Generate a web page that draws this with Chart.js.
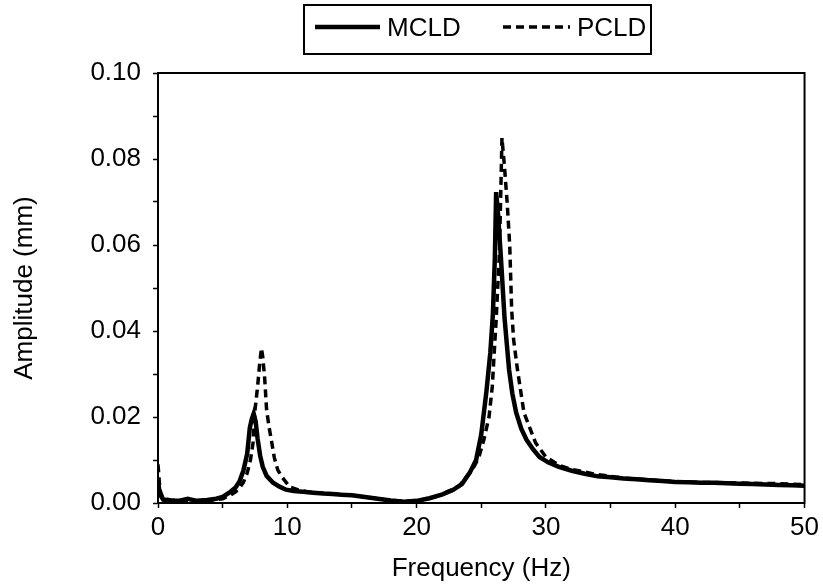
<!DOCTYPE html>
<html>
<head>
<meta charset="utf-8">
<title>MCLD vs PCLD</title>
<script src="https://cdn.jsdelivr.net/npm/chart.js@4.4.1/dist/chart.umd.min.js"></script>
<style>
  html, body { margin: 0; padding: 0; background: #fff; }
  #wrap { width: 823px; height: 585px; }
</style>
</head>
<body>
<div id="wrap"><canvas id="ampChart" width="823" height="585"></canvas></div>
<script>
// ── Data ────────────────────────────────────────────────────
const mcldFreq = [0, 0.15, 0.4, 1.0, 1.6, 2.3, 3.0, 3.8, 4.5, 5.0, 5.6, 6.0, 6.3, 6.6, 6.9, 7.1, 7.25, 7.4, 7.55, 7.7, 7.9, 8.1, 8.4, 8.9, 9.4, 9.9, 10.5, 11.2, 12.0, 12.8, 13.5, 14.2, 15.0, 16.0, 17.0, 18.0, 19.0, 20.0, 21.0, 22.0, 22.8, 23.5, 24.1, 24.6, 25.0, 25.4, 25.7, 25.9, 26.05, 26.15, 26.3, 26.5, 26.8, 27.15, 27.4, 27.7, 28.1, 28.5, 29.0, 29.5, 30.2, 31.0, 32.0, 33.0, 34.0, 35.0, 36.0, 37.0, 38.0, 39.0, 40.0, 41.0, 42.0, 43.0, 44.0, 45.0, 46.0, 47.0, 48.0, 49.0, 50.0];
const mcldAmp = [0.005, 0.002, 0.0008, 0.0006, 0.0005, 0.0010, 0.0005, 0.0007, 0.0010, 0.0014, 0.0026, 0.0036, 0.0050, 0.0075, 0.0115, 0.0175, 0.0195, 0.0208, 0.0190, 0.0150, 0.0110, 0.0084, 0.0063, 0.0047, 0.0038, 0.0031, 0.0028, 0.0026, 0.0024, 0.0022, 0.0021, 0.0019, 0.0018, 0.0014, 0.0010, 0.0006, 0.0003, 0.0005, 0.0011, 0.0020, 0.0030, 0.0044, 0.0070, 0.0100, 0.0160, 0.0260, 0.0350, 0.0440, 0.0570, 0.0723, 0.0670, 0.0580, 0.0430, 0.0310, 0.0255, 0.0210, 0.0172, 0.0147, 0.0125, 0.0107, 0.0094, 0.0084, 0.0075, 0.0068, 0.0062, 0.0060, 0.0057, 0.0055, 0.0053, 0.0051, 0.0049, 0.0048, 0.0047, 0.0047, 0.0046, 0.0045, 0.0044, 0.0043, 0.0042, 0.0041, 0.0040];

const pcldFreq = [0, 0.15, 0.4, 1.0, 2.0, 3.0, 4.0, 5.0, 5.6, 6.0, 6.3, 6.6, 6.9, 7.15, 7.35, 7.5, 7.7, 7.85, 8.0, 8.1, 8.25, 8.4, 8.6, 8.8, 9.0, 9.26, 9.6, 10.2, 10.8, 11.5, 12.5, 13.5, 14.5, 15.5, 16.5, 17.5, 18.5, 19.5, 20.5, 21.5, 22.5, 23.3, 24.3, 24.8, 25.2, 25.6, 25.85, 26.15, 26.4, 26.5, 26.6, 26.8, 27.0, 27.2, 27.35, 27.5, 27.8, 28.3, 29.2, 30.0, 31.0, 32.0, 34.0, 36.0, 38.0, 40.0, 42.0, 44.0, 46.0, 48.0, 50.0];
const pcldAmp = [0.009, 0.003, 0.001, 0.0007, 0.0006, 0.0005, 0.0006, 0.0010, 0.0018, 0.0026, 0.0035, 0.0048, 0.0070, 0.0100, 0.0140, 0.0216, 0.0270, 0.0320, 0.0360, 0.0340, 0.0290, 0.0216, 0.0175, 0.0140, 0.0105, 0.0077, 0.0060, 0.0037, 0.0031, 0.0026, 0.0023, 0.0021, 0.0019, 0.0016, 0.0012, 0.0008, 0.0005, 0.0004, 0.0008, 0.0015, 0.0028, 0.0040, 0.0077, 0.0105, 0.0147, 0.0200, 0.0270, 0.0426, 0.0580, 0.0710, 0.0849, 0.0780, 0.0700, 0.0600, 0.0450, 0.0380, 0.0310, 0.0210, 0.0140, 0.0107, 0.0088, 0.0078, 0.0066, 0.0058, 0.0054, 0.0050, 0.0048, 0.0047, 0.0046, 0.0045, 0.0043];

const seriesNames = ['MCLD', 'PCLD'];
const xTitle = 'Frequency (Hz)';
const yTitle = 'Amplitude (mm)';

const FONT = '"Liberation Sans", Arial, Helvetica, sans-serif';

function toPoints(xs, ys) {
  return xs.map((x, i) => ({ x: x, y: ys[i] }));
}

// ── Plugins: frame round the plot and boxed legend ──────────
const framePlugin = {
  id: 'frame',
  afterDraw(chart) {
    const { ctx, chartArea: a } = chart;
    ctx.save();
    ctx.strokeStyle = '#000';
    ctx.lineWidth = 2;
    ctx.strokeRect(a.left, a.top, a.right - a.left, a.bottom - a.top);
    ctx.restore();
  }
};

const boxLegend = {
  id: 'boxLegend',
  afterDraw(chart) {
    const ctx = chart.ctx;
    const ds = chart.data.datasets;
    ctx.save();
    ctx.strokeStyle = '#000';
    ctx.lineWidth = 2;
    ctx.setLineDash([]);
    ctx.strokeRect(304, 5, 347, 49);

    ctx.font = '26px ' + FONT;
    ctx.fillStyle = '#000';
    ctx.textBaseline = 'middle';
    ctx.textAlign = 'left';

    const items = [
      { x0: 315, x1: 380, tx: 387 },
      { x0: 503, x1: 570, tx: 577 }
    ];
    items.forEach((it, i) => {
      ctx.beginPath();
      ctx.lineWidth = ds[i].borderWidth;
      ctx.setLineDash(ds[i].borderDash || []);
      ctx.moveTo(it.x0, 27);
      ctx.lineTo(it.x1, 27);
      ctx.stroke();
      ctx.setLineDash([]);
      ctx.fillText(ds[i].label, it.tx, 29);
    });
    ctx.restore();
  }
};

// ── Chart ───────────────────────────────────────────────────
new Chart(document.getElementById('ampChart').getContext('2d'), {
  type: 'line',
  data: {
    datasets: [
      {
        label: seriesNames[0],
        data: toPoints(mcldFreq, mcldAmp),
        borderColor: '#000', borderWidth: 4.5,
        pointRadius: 0, tension: 0, fill: false,
      },
      {
        label: seriesNames[1],
        data: toPoints(pcldFreq, pcldAmp),
        borderColor: '#000', borderWidth: 3.5, borderDash: [8, 5],
        pointRadius: 0, tension: 0, fill: false,
      }
    ]
  },
  options: {
    responsive: false,
    animation: false,
    devicePixelRatio: 1,
    layout: { padding: { top: 73, right: 17, left: 0, bottom: 0 } },
    plugins: { legend: { display: false }, tooltip: { enabled: false } },
    scales: {
      x: {
        type: 'linear', min: 0, max: 50,
        afterFit: (s) => { s.height = 82; },
        grid: { drawOnChartArea: false, drawTicks: true, tickLength: 5, tickColor: '#000', tickWidth: 1.5 },
        border: { display: true, color: '#000', width: 2 },
        ticks: {
          stepSize: 5, autoSkip: false, maxRotation: 0, padding: 4, color: '#000',
          font: { family: FONT, size: 26 },
          callback: (v) => (Math.round(v) % 10 === 0 ? String(Math.round(v)) : '')
        },
        title: { display: true, text: xTitle, color: '#000', font: { family: FONT, size: 26 }, padding: { top: 0, bottom: 1 } }
      },
      y: {
        type: 'linear', min: 0, max: 0.1,
        afterFit: (s) => { s.width = 158; },
        grid: { drawOnChartArea: false, drawTicks: true, tickLength: 5, tickColor: '#000', tickWidth: 1.5 },
        border: { display: true, color: '#000', width: 2 },
        ticks: {
          stepSize: 0.01, autoSkip: false, padding: 12, color: '#000',
          font: { family: FONT, size: 26 },
          callback: (v) => (Math.round(v * 100) % 2 === 0 ? v.toFixed(2) : '')
        },
        title: { display: true, text: yTitle, color: '#000', font: { family: FONT, size: 26 }, padding: { top: 9, bottom: 0 } }
      }
    }
  },
  plugins: [framePlugin, boxLegend]
});
</script>
</body>
</html>
